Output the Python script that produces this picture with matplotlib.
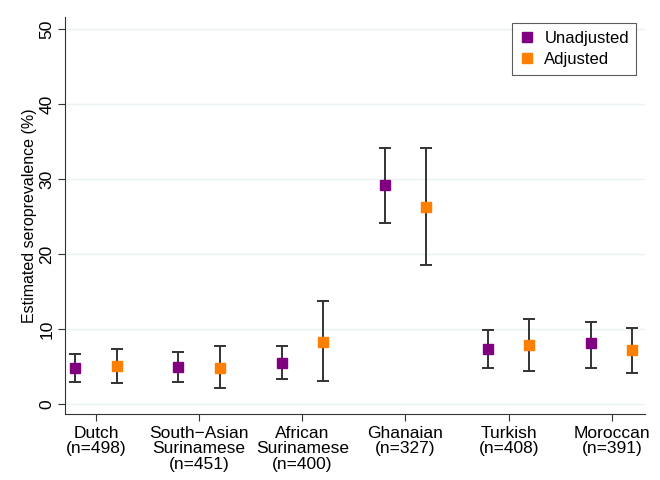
import numpy as np
import matplotlib
matplotlib.use("Agg")
import matplotlib.pyplot as plt

plt.rcParams['font.family'] = ['Liberation Sans', 'DejaVu Sans']

groups = ["Dutch\n(n=498)", "South\u2212Asian\nSurinamese\n(n=451)",
          "African\nSurinamese\n(n=400)", "Ghanaian\n(n=327)",
          "Turkish\n(n=408)", "Moroccan\n(n=391)"]

unadj = [4.8, 4.9, 5.5, 29.2, 7.4, 8.2]
unadj_lo = [2.9, 2.9, 3.3, 24.2, 4.8, 4.8]
unadj_hi = [6.7, 6.9, 7.75, 34.1, 9.9, 10.9]

adj = [5.1, 4.8, 8.3, 26.3, 7.9, 7.2]
adj_lo = [2.8, 2.2, 3.1, 18.5, 4.4, 4.2]
adj_hi = [7.4, 7.75, 13.7, 34.1, 11.4, 10.2]

x = np.arange(1, len(groups) + 1)
off = 0.2

fig = plt.figure(figsize=(6.6, 4.8), dpi=100)
ax = fig.add_axes([0.0985, 0.1375, 0.8785, 0.8275])

for yy in range(0, 51, 10):
    ax.axhline(yy, color="#eaf2f3", lw=1, zorder=0)

def draw(xs, v, lo, hi, col, lab):
    v = np.array(v)
    err = [v - np.array(lo), np.array(hi) - v]
    ax.errorbar(xs, v, yerr=err, fmt="none", ecolor="#333333",
                elinewidth=1.4, capsize=4.5, capthick=1.4, zorder=2)
    ax.plot(xs, v, "s", color=col, markersize=7.5, label=lab, zorder=3,
            linestyle="none")

draw(x - off, unadj, unadj_lo, unadj_hi, "#800080", "Unadjusted")
draw(x + off, adj, adj_lo, adj_hi, "#ff7f00", "Adjusted")

ax.set_xlim(0.70, 6.32)
ax.set_ylim(-1.3, 51.6)
ax.set_xticks(x)
ax.set_xticklabels(groups, fontsize=12.5, linespacing=1.05)
ax.set_yticks(range(0, 51, 10))
ax.set_yticklabels([str(v) for v in range(0, 51, 10)], fontsize=12.5,
                   rotation=90, va="center")
ax.set_ylabel("Estimated seroprevalence (%)", fontsize=11.5, labelpad=2)

for s in ["top", "right"]:
    ax.spines[s].set_visible(False)
for s in ["left", "bottom"]:
    ax.spines[s].set_color("#333333")
ax.tick_params(axis="both", direction="out", length=5, color="#333333")
ax.tick_params(axis="y", pad=2.5)

leg = ax.legend(loc="upper right", fontsize=12, frameon=True, fancybox=False,
                edgecolor="#333333", handletextpad=0.6, borderpad=0.45,
                handlelength=0.9, labelspacing=0.4,
                bbox_to_anchor=(1.0, 1.005))
leg.get_frame().set_linewidth(0.8)

fig.savefig("out.png", dpi=100, facecolor="white")
